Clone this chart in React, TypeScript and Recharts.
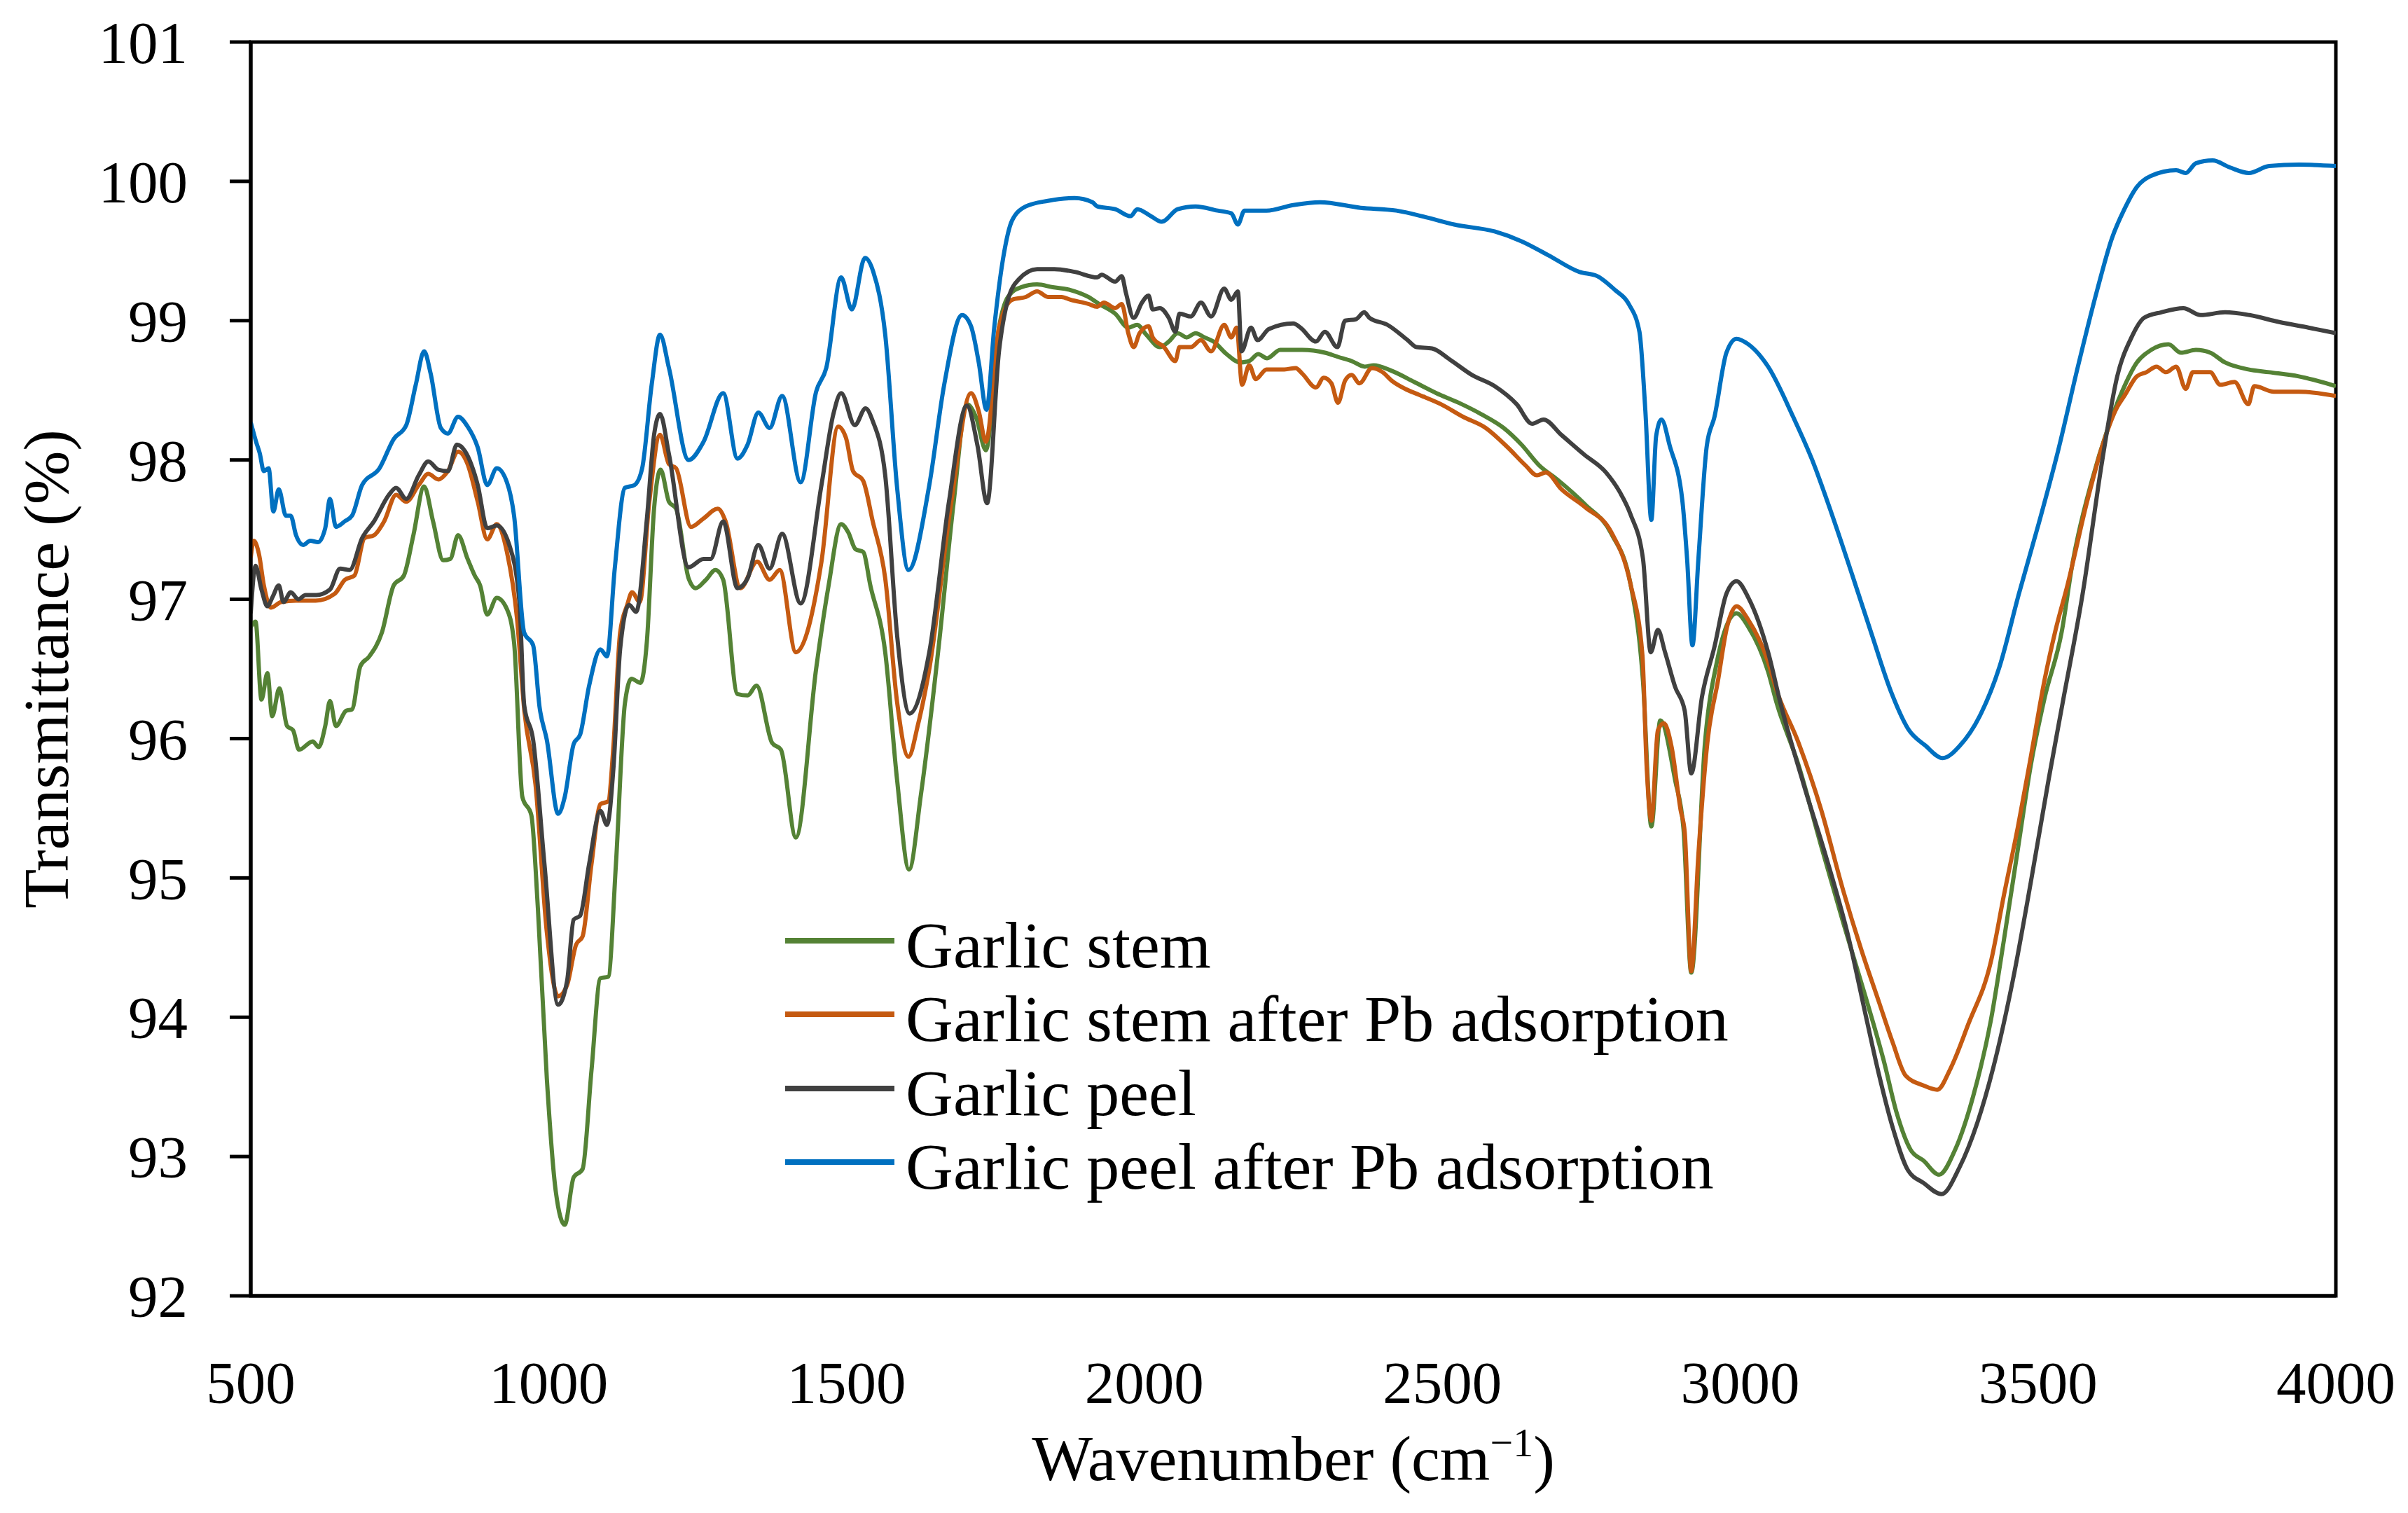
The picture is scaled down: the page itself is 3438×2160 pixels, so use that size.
import React from 'react';
import { LineChart, Line, XAxis, YAxis, Legend, ReferenceArea } from 'recharts';

const FONT = '"Liberation Serif", "Times New Roman", serif';

const X_TICKS = [500, 1000, 1500, 2000, 2500, 3000, 3500, 4000];
const Y_TICKS = [92, 93, 94, 95, 96, 97, 98, 99, 100, 101];

// Garlic stem
const stemWn = [
  500, 508, 518, 528, 536, 548, 561, 571, 581, 604, 614, 625, 633, 643, 660, 670, 684, 699, 720, 740,
  757, 773, 791, 806, 823, 835, 848, 864, 876, 885, 897, 913, 930, 942, 956, 971, 982, 997, 1012, 1027,
  1042, 1057, 1072, 1087, 1100, 1113, 1128, 1139, 1154, 1165, 1177, 1188, 1202, 1214, 1235, 1247, 1264, 1280, 1293, 1317,
  1334, 1349, 1375, 1390, 1415, 1449, 1470, 1491, 1503, 1515, 1528, 1540, 1565, 1585, 1605, 1625, 1655, 1680, 1702, 1718,
  1734, 1756, 1771, 1793, 1820, 1846, 1876, 1906, 1924, 1951, 1973, 1988, 2003, 2026, 2041, 2056, 2071, 2086, 2101, 2116,
  2138, 2161, 2176, 2191, 2206, 2228, 2265, 2303, 2325, 2348, 2370, 2385, 2415, 2453, 2490, 2528, 2565, 2603, 2633, 2663,
  2693, 2740, 2784, 2816, 2837, 2851, 2866, 2891, 2905, 2918, 2941, 2961, 2994, 3014, 3047, 3061, 3098, 3136, 3173, 3211,
  3241, 3263, 3286, 3308, 3334, 3361, 3391, 3421, 3443, 3466, 3488, 3511, 3540, 3558, 3591, 3616, 3641, 3666, 3690, 3719,
  3740, 3765, 3789, 3814, 3853, 3888, 3938, 4000,
];
const stemT = [
  96.8, 96.84, 96.28, 96.47, 96.16, 96.36, 96.09, 96.06, 95.92, 95.98, 95.94, 96.09, 96.27, 96.09, 96.2, 96.21, 96.52, 96.59, 96.76, 97.1,
  97.17, 97.46, 97.81, 97.56, 97.28, 97.29, 97.46, 97.29, 97.17, 97.1, 96.89, 97.01, 96.93, 96.69, 95.58, 95.45, 94.78, 93.56, 92.75, 92.51,
  92.85, 92.91, 93.62, 94.28, 94.29, 95.1, 96.25, 96.43, 96.4, 96.7, 97.65, 97.93, 97.7, 97.65, 97.15, 97.08, 97.14, 97.21, 97.14, 96.32,
  96.31, 96.38, 95.97, 95.92, 95.29, 96.5, 97.1, 97.54, 97.48, 97.36, 97.34, 97.1, 96.62, 95.7, 95.06, 95.6, 96.67, 97.7, 98.4, 98.3,
  98.07, 98.95, 99.17, 99.24, 99.26, 99.24, 99.22, 99.17, 99.12, 99.05, 98.95, 98.97, 98.9, 98.81, 98.85, 98.91, 98.88, 98.91, 98.88, 98.85,
  98.76, 98.7, 98.71, 98.76, 98.73, 98.79, 98.79, 98.77, 98.74, 98.71, 98.67, 98.68, 98.64, 98.56, 98.48, 98.41, 98.33, 98.23, 98.11, 97.96,
  97.86, 97.68, 97.47, 97.11, 96.41, 95.37, 96.13, 95.7, 95.35, 94.32, 95.97, 96.55, 96.9, 96.8, 96.48, 96.26, 95.81, 95.23, 94.68, 94.14,
  93.69, 93.31, 93.05, 92.97, 92.87, 93.05, 93.43, 93.98, 94.56, 95.2, 95.81, 96.29, 96.77, 97.26, 97.86, 98.21, 98.49, 98.7, 98.79, 98.83,
  98.77, 98.79, 98.77, 98.7, 98.65, 98.63, 98.6, 98.53,
];

// Garlic stem after Pb adsorption
const stemPbWn = [
  500, 505, 514, 522, 534, 551, 576, 609, 641, 658, 674, 691, 707, 724, 744, 761, 782, 798, 815, 831,
  848, 864, 881, 897, 913, 930, 947, 959, 978, 997, 1016, 1031, 1046, 1057, 1072, 1087, 1100, 1109, 1120, 1132,
  1140, 1153, 1169, 1187, 1202, 1214, 1239, 1260, 1284, 1297, 1322, 1350, 1371, 1388, 1415, 1458, 1486, 1499, 1511, 1528,
  1544, 1565, 1585, 1604, 1620, 1639, 1676, 1709, 1722, 1734, 1756, 1778, 1801, 1820, 1838, 1861, 1876, 1906, 1921, 1932,
  1951, 1962, 1973, 1982, 1992, 2007, 2014, 2033, 2052, 2059, 2078, 2095, 2112, 2134, 2146, 2155, 2164, 2176, 2187, 2205,
  2235, 2254, 2265, 2288, 2301, 2314, 2325, 2337, 2348, 2361, 2382, 2400, 2415, 2438, 2460, 2498, 2535, 2573, 2610, 2640,
  2659, 2674, 2700, 2740, 2784, 2816, 2836, 2843, 2851, 2862, 2872, 2885, 2900, 2907, 2918, 2930, 2945, 2963, 2978, 2994,
  3014, 3047, 3061, 3098, 3136, 3173, 3203, 3233, 3256, 3278, 3308, 3331, 3353, 3383, 3421, 3443, 3466, 3488, 3511, 3529,
  3550, 3583, 3608, 3633, 3645, 3666, 3682, 3699, 3715, 3732, 3748, 3760, 3789, 3806, 3830, 3853, 3863, 3896, 3938, 4000,
];
const stemPbT = [
  97.3, 97.42, 97.32, 97.1, 96.94, 96.98, 96.99, 96.99, 97.04, 97.14, 97.17, 97.44, 97.46, 97.56, 97.75, 97.7, 97.82, 97.9, 97.86, 97.92,
  98.06, 97.97, 97.7, 97.43, 97.54, 97.34, 96.86, 96.21, 95.67, 94.61, 94.15, 94.23, 94.52, 94.58, 95.1, 95.53, 95.55, 95.96, 96.76, 96.96,
  97.05, 96.98, 97.7, 98.18, 97.97, 97.94, 97.52, 97.58, 97.65, 97.56, 97.08, 97.27, 97.14, 97.21, 96.62, 97.27, 98.24, 98.16, 97.92, 97.85,
  97.56, 97.15, 96.26, 95.87, 96.1, 96.5, 97.7, 98.48, 98.35, 98.13, 98.95, 99.15, 99.17, 99.21, 99.17, 99.17, 99.15, 99.12, 99.1, 99.13,
  99.09, 99.12, 98.91, 98.81, 98.91, 98.96, 98.88, 98.81, 98.71, 98.81, 98.81, 98.86, 98.78, 98.97, 98.88, 98.95, 98.54, 98.68, 98.58, 98.65,
  98.65, 98.66, 98.62, 98.52, 98.59, 98.55, 98.41, 98.57, 98.61, 98.55, 98.66, 98.63, 98.57, 98.51, 98.47, 98.4, 98.31, 98.23, 98.09, 97.96,
  97.89, 97.91, 97.79, 97.66, 97.48, 97.11, 96.6, 95.81, 95.41, 96.06, 96.11, 95.94, 95.49, 95.33, 94.33, 95.17, 95.97, 96.42, 96.8, 96.95,
  96.85, 96.55, 96.35, 95.97, 95.49, 94.91, 94.49, 94.11, 93.82, 93.58, 93.51, 93.48, 93.63, 93.95, 94.4, 94.88, 95.36, 95.87, 96.42, 96.77,
  97.11, 97.71, 98.1, 98.38, 98.46, 98.6, 98.63, 98.67, 98.63, 98.67, 98.51, 98.63, 98.63, 98.54, 98.56, 98.4, 98.53, 98.49, 98.49, 98.46,
];

// Garlic peel
const peelWn = [
  500, 508, 518, 528, 537, 547, 555, 567, 580, 592, 610, 633, 650, 666, 687, 707, 732, 744, 761, 782,
  798, 815, 831, 846, 860, 881, 897, 913, 934, 951, 959, 974, 993, 1016, 1031, 1042, 1053, 1068, 1087, 1098,
  1109, 1120, 1135, 1147, 1165, 1177, 1187, 1202, 1235, 1260, 1272, 1293, 1317, 1334, 1352, 1371, 1392, 1423, 1458, 1478,
  1491, 1514, 1532, 1544, 1565, 1585, 1606, 1639, 1672, 1702, 1720, 1736, 1756, 1771, 1790, 1820, 1849, 1883, 1921, 1928,
  1951, 1962, 1969, 1982, 1996, 2007, 2014, 2026, 2041, 2052, 2059, 2078, 2095, 2112, 2134, 2146, 2157, 2163, 2179, 2190,
  2209, 2250, 2262, 2288, 2303, 2324, 2337, 2355, 2369, 2378, 2408, 2442, 2457, 2483, 2513, 2550, 2588, 2625, 2651, 2670,
  2700, 2738, 2775, 2798, 2816, 2837, 2850, 2862, 2874, 2891, 2907, 2918, 2936, 2957, 2977, 2994, 3014, 3047, 3068, 3106,
  3143, 3181, 3211, 3233, 3256, 3282, 3308, 3338, 3368, 3398, 3428, 3458, 3488, 3518, 3542, 3575, 3608, 3633, 3657, 3678,
  3707, 3744, 3773, 3814, 3855, 3905, 3954, 4000,
];
const peelT = [
  96.9, 97.24, 97.07, 96.95, 97.02, 97.1, 96.98, 97.05, 97.0, 97.03, 97.03, 97.07, 97.22, 97.21, 97.44, 97.56, 97.75, 97.8, 97.72, 97.89,
  97.99, 97.93, 97.92, 98.11, 98.06, 97.82, 97.51, 97.53, 97.39, 96.98, 96.24, 95.99, 95.1, 94.09, 94.26, 94.7, 94.73, 95.1, 95.48, 95.38,
  95.8, 96.64, 96.96, 96.91, 97.58, 98.18, 98.33, 98.04, 97.23, 97.29, 97.29, 97.56, 97.08, 97.15, 97.39, 97.22, 97.47, 96.97, 97.82, 98.33,
  98.48, 98.25, 98.37, 98.28, 97.89, 96.74, 96.18, 96.62, 97.7, 98.39, 98.1, 97.69, 98.78, 99.15, 99.3, 99.37, 99.37, 99.35, 99.31, 99.33,
  99.28, 99.32, 99.2, 99.02, 99.13, 99.18, 99.08, 99.09, 99.02, 98.92, 99.05, 99.03, 99.13, 99.03, 99.23, 99.15, 99.21, 98.78, 98.95, 98.86,
  98.94, 98.98, 98.95, 98.85, 98.92, 98.81, 99.0, 99.01, 99.06, 99.02, 98.97, 98.86, 98.81, 98.8, 98.72, 98.61, 98.53, 98.4, 98.26, 98.29,
  98.18, 98.04, 97.91, 97.77, 97.61, 97.29, 96.62, 96.78, 96.62, 96.37, 96.2, 95.75, 96.3, 96.66, 97.04, 97.13, 97.01, 96.62, 96.25, 95.68,
  95.17, 94.59, 94.01, 93.59, 93.21, 92.9, 92.81, 92.73, 92.92, 93.24, 93.69, 94.27, 94.97, 95.71, 96.27, 97.04, 98.0, 98.6, 98.88, 99.02,
  99.06, 99.09, 99.04, 99.06, 99.04, 98.99, 98.95, 98.91,
];

// Garlic peel after Pb adsorption
const peelPbWn = [
  500, 509, 515, 522, 530, 538, 547, 559, 567, 576, 588, 600, 613, 625, 633, 643, 658, 670, 687, 716,
  740, 761, 777, 791, 802, 819, 831, 848, 864, 881, 897, 913, 930, 942, 959, 974, 985, 997, 1016, 1027,
  1042, 1053, 1068, 1087, 1098, 1111, 1128, 1144, 1157, 1173, 1187, 1202, 1235, 1260, 1293, 1317, 1334, 1352, 1371, 1392,
  1423, 1449, 1466, 1491, 1509, 1531, 1545, 1565, 1585, 1604, 1639, 1664, 1694, 1709, 1722, 1735, 1748, 1763, 1778, 1801,
  1838, 1883, 1913, 1921, 1951, 1977, 1988, 2011, 2029, 2056, 2086, 2123, 2146, 2157, 2168, 2205, 2250, 2295, 2363, 2423,
  2475, 2520, 2588, 2633, 2678, 2730, 2760, 2790, 2813, 2831, 2841, 2851, 2859, 2868, 2882, 2903, 2911, 2920, 2930, 2944,
  2957, 2977, 2994, 3014, 3047, 3089, 3121, 3154, 3187, 3220, 3253, 3282, 3311, 3340, 3369, 3402, 3435, 3468, 3501, 3534,
  3567, 3600, 3624, 3645, 3666, 3690, 3732, 3748, 3765, 3793, 3822, 3854, 3888, 3938, 4000,
];
const peelPbT = [
  98.27, 98.13, 98.05, 97.92, 97.94, 97.63, 97.79, 97.6, 97.6, 97.46, 97.39, 97.42, 97.41, 97.51, 97.72, 97.52, 97.56, 97.6, 97.82, 97.94,
  98.15, 98.25, 98.54, 98.78, 98.62, 98.23, 98.19, 98.31, 98.24, 98.09, 97.82, 97.94, 97.84, 97.6, 96.76, 96.67, 96.22, 95.99, 95.46, 95.58,
  95.96, 96.03, 96.38, 96.64, 96.59, 97.22, 97.8, 97.82, 97.94, 98.54, 98.9, 98.66, 98.0, 98.13, 98.48, 98.01, 98.11, 98.34, 98.23, 98.46,
  97.84, 98.49, 98.66, 99.31, 99.08, 99.45, 99.35, 98.9, 97.8, 97.21, 97.82, 98.54, 99.04, 98.96, 98.7, 98.36, 98.95, 99.45, 99.72, 99.82,
  99.86, 99.88, 99.85, 99.82, 99.8, 99.75, 99.8, 99.75, 99.71, 99.8, 99.82, 99.79, 99.77, 99.69, 99.79, 99.79, 99.83, 99.85, 99.81, 99.79,
  99.74, 99.69, 99.64, 99.57, 99.47, 99.35, 99.32, 99.22, 99.12, 98.92, 98.35, 97.57, 98.17, 98.29, 98.1, 97.71, 97.29, 96.67, 97.29, 98.1,
  98.31, 98.77, 98.87, 98.83, 98.67, 98.31, 98.0, 97.61, 97.19, 96.76, 96.34, 96.07, 95.95, 95.86, 95.95, 96.16, 96.51, 97.04, 97.54, 98.07,
  98.67, 99.23, 99.59, 99.8, 99.96, 100.04, 100.08, 100.06, 100.13, 100.15, 100.1, 100.06, 100.11, 100.12, 100.11,
];

const toRows = (wn: number[], t: number[]) => wn.map((w, i) => ({ wn: w, t: t[i] }));

const SERIES = [
  { name: 'Garlic stem', color: '#548235', data: toRows(stemWn, stemT) },
  { name: 'Garlic stem after Pb adsorption', color: '#C55A11', data: toRows(stemPbWn, stemPbT) },
  { name: 'Garlic peel', color: '#404040', data: toRows(peelWn, peelT) },
  { name: 'Garlic peel after Pb adsorption', color: '#0070C0', data: toRows(peelPbWn, peelPbT) },
];

// legend keeps the series order, not the alphabetical one
const renderLegend = () => (
  <div>
    {SERIES.map((s) => (
      <div key={s.name} style={{ display: 'flex', alignItems: 'center', height: 105.5 }}>
        <svg width={156} height={12}>
          <line x1={0} y1={6} x2={156} y2={6} stroke={s.color} strokeWidth={8} />
        </svg>
        <span
          style={{
            marginLeft: 16,
            fontSize: 94,
            fontFamily: FONT,
            color: '#000',
            lineHeight: 1,
            whiteSpace: 'nowrap',
            position: 'relative',
            top: 6,
          }}
        >
          {s.name}
        </span>
      </div>
    ))}
  </div>
);

const renderXTitle = (props: any) => {
  const vb = props.viewBox || { x: 358, y: 1850, width: 2977, height: 310 };
  return (
    <text x={vb.x + vb.width / 2} y={vb.y + 263} textAnchor="middle" fontSize={92} fontFamily={FONT} fill="#000">
      Wavenumber (cm
      <tspan dy={-34} fontSize={58}>−1</tspan>
      <tspan dy={34}>)</tspan>
    </text>
  );
};

const renderYTitle = (props: any) => {
  const vb = props.viewBox || { x: 0, y: 60, width: 358, height: 1790 };
  const cx = vb.x + 97;
  const cy = vb.y + vb.height / 2;
  return (
    <text
      x={cx}
      y={cy}
      transform={`rotate(-90 ${cx} ${cy})`}
      textAnchor="middle"
      fontSize={92}
      fontFamily={FONT}
      fill="#000"
    >
      Transmittance (%)
    </text>
  );
};

export default function App() {
  return (
    <div style={{ position: 'absolute', left: 0, top: 0, width: 3438, height: 2160, background: '#fff' }}>
      <LineChart width={3438} height={2160} margin={{ top: 60, right: 103, bottom: 0, left: 0 }}>
        <XAxis
          dataKey="wn"
          type="number"
          domain={[500, 4000]}
          ticks={X_TICKS}
          allowDataOverflow
          height={310}
          tickLine={false}
          tickSize={0}
          tickMargin={93}
          axisLine={{ stroke: '#000', strokeWidth: 5 }}
          tick={{ fontSize: 85, fill: '#000', fontFamily: FONT }}
          label={renderXTitle}
        />
        <YAxis
          type="number"
          domain={[92, 101]}
          ticks={Y_TICKS}
          interval={0}
          allowDataOverflow
          width={358}
          tickSize={30}
          tickMargin={60}
          tickLine={{ stroke: '#000', strokeWidth: 5 }}
          axisLine={{ stroke: '#000', strokeWidth: 5 }}
          tick={{ fontSize: 85, fill: '#000', fontFamily: FONT }}
          label={renderYTitle}
        />
        <ReferenceArea x1={500} x2={4000} y1={92} y2={101} fill="none" fillOpacity={0} stroke="#000" strokeWidth={5} ifOverflow="visible" />
        {SERIES.map((s) => (
          <Line
            key={s.name}
            data={s.data}
            dataKey="t"
            name={s.name}
            type="monotone"
            stroke={s.color}
            strokeWidth={6}
            dot={false}
            activeDot={false}
            isAnimationActive={false}
          />
        ))}
        <Legend
          content={renderLegend}
          layout="vertical"
          align="center"
          verticalAlign="middle"
          wrapperStyle={{ left: 1121, top: 1290, width: 1500 }}
        />
      </LineChart>
    </div>
  );
}
